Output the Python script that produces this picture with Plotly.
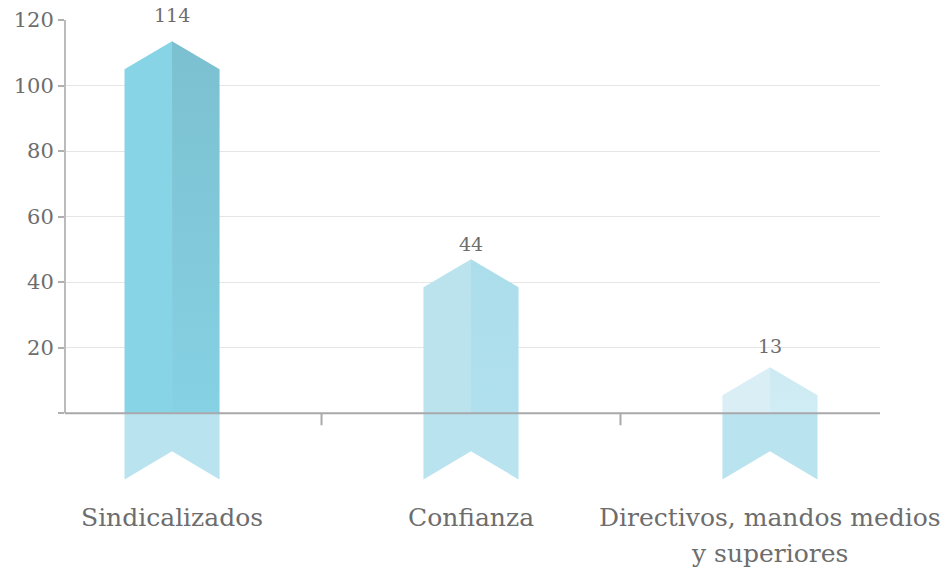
import plotly.graph_objects as go

categories = ["Sindicalizados", "Confianza", "Directivos, mandos medios<br>y superiores"]
values = [114, 44, 13]
ribbon_tops = [113.5, 47, 14]   # peak heights of the drawn ribbons
y_tickvals = [0, 20, 40, 60, 80, 100, 120]
y_ticktext = ["", "20", "40", "60", "80", "100", "120"]

left_colors = ["#87D4E7", "#BAE3EE", "#D9EEF5"]
right_top_colors = ["#7BC0D0", "#ACDDEA", "#CDEAF2"]
right_bot_colors = ["#86D1E4", "#B0E0ED", "#D0ECF4"]
tail_color = "#B8E3EF"
text_color = "#6D6D6D"
FONT = "DejaVu Serif"

half = 0.159      # half bar width (x units)
chevron = 8.55    # chevron height (y units)
tail_bottom = -20.2
tail_notch = -11.6

fig = go.Figure()

for i, (cat, top) in enumerate(zip(categories, ribbon_tops)):
    x = i
    # tail below the axis
    fig.add_trace(go.Scatter(
        x=[x - half, x - half, x, x + half, x + half, x - half],
        y=[0, tail_bottom, tail_notch, tail_bottom, 0, 0],
        fill="toself", fillcolor=tail_color, mode="lines",
        line=dict(width=0), hoverinfo="skip", showlegend=False))
    # left half
    fig.add_trace(go.Scatter(
        x=[x - half, x - half, x, x, x - half],
        y=[0, top - chevron, top, 0, 0],
        fill="toself", fillcolor=left_colors[i], mode="lines",
        line=dict(width=0), hoverinfo="skip", showlegend=False))
    # right half with a vertical gradient
    fig.add_trace(go.Scatter(
        x=[x, x, x + half, x + half, x],
        y=[0, top, top - chevron, 0, 0],
        fill="toself", mode="lines",
        fillgradient=dict(type="vertical", start=0, stop=top,
                          colorscale=[[0, right_bot_colors[i]], [1, right_top_colors[i]]]),
        line=dict(width=0), hoverinfo="skip", showlegend=False))

# value labels
for i, v in enumerate(values):
    fig.add_annotation(x=i, y=v, text=str(v), showarrow=False, yanchor="bottom",
                       yshift=12, font=dict(family=FONT, size=19, color=text_color))

# category labels (each line placed separately for line spacing control)
for i, c in enumerate(categories):
    for j, line in enumerate(c.split("<br>")):
        fig.add_annotation(x=i, y=0, yref="paper", text=line, showarrow=False, yanchor="top",
                           yshift=-19 - 36 * j,
                           font=dict(family=FONT, size=25, color=text_color))

shapes = []
# y axis line (0..120)
shapes.append(dict(type="line", xref="paper", yref="y", x0=0, x1=0, y0=0, y1=120,
                   line=dict(color="#BBBBBB", width=2), layer="above"))
# x axis line at zero
shapes.append(dict(type="line", xref="paper", yref="y", x0=0, x1=1, y0=0, y1=0,
                   line=dict(color="#A9A9AC", width=2), layer="above"))
# category separator ticks
for b in [0.5, 1.5]:
    shapes.append(dict(type="line", xref="x", yref="y", x0=b, x1=b, y0=0, y1=-3.7,
                       line=dict(color="#AAAAAA", width=2), layer="above"))

# the page adds an 8px body margin, so the figure is sized to fit the 952x571 window
fig.update_layout(
    width=944, height=563,
    margin=dict(l=57, r=72, t=12, b=89),
    paper_bgcolor="white", plot_bgcolor="white",
    showlegend=False,
    shapes=shapes,
    xaxis=dict(range=[-0.358, 2.368], showgrid=False, zeroline=False, showline=False,
               showticklabels=False, ticks="", fixedrange=True, automargin=False),
    yaxis=dict(range=[-21, 120], tickvals=y_tickvals, ticktext=y_ticktext,
               showgrid=True, gridcolor="#E6E6E6", gridwidth=1,
               zeroline=False, showline=False,
               ticks="outside", ticklen=6, tickwidth=2, tickcolor="#B0B0B0",
               tickfont=dict(family=FONT, size=21, color=text_color),
               fixedrange=True, automargin=False),
)

fig.write_html("out.html")
